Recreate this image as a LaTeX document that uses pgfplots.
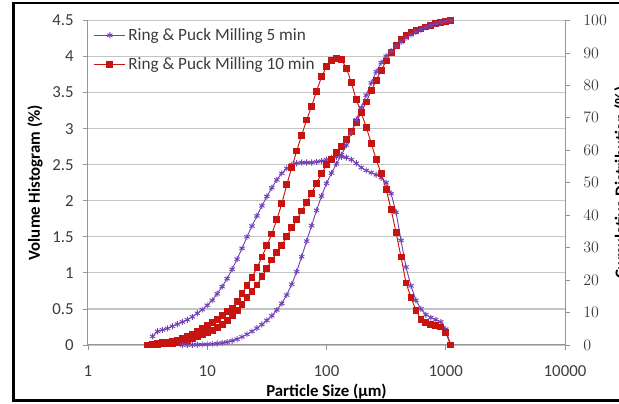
\documentclass[border=0pt]{standalone}
\usepackage{pgfplots}
\usepackage{pgfplotstable}
\pgfplotsset{compat=1.18}
\usepackage{fontspec}
\setmainfont{Carlito}

\definecolor{millpurple}{RGB}{114,66,180}
\definecolor{millred}{RGB}{200,20,16}
\definecolor{gridgray}{RGB}{196,196,196}
\definecolor{axisgray}{RGB}{150,150,150}
\definecolor{labelgray}{RGB}{60,60,60}

% Volume histogram, 5 min milling (size in um, volume %)
\pgfplotstableread{
d h
3.481 0.12
3.831 0.19
4.217 0.21
4.642 0.23
5.109 0.26
5.623 0.29
6.190 0.32
6.813 0.35
7.499 0.39
8.254 0.44
9.085 0.49
10 0.55
11.007 0.62
12.115 0.71
13.335 0.81
14.678 0.92
16.156 1.05
17.783 1.19
19.573 1.34
21.544 1.50
23.714 1.65
26.102 1.79
28.730 1.93
31.623 2.06
34.807 2.18
38.312 2.29
42.170 2.38
46.416 2.45
51.090 2.50
56.234 2.52
61.897 2.53
68.129 2.53
74.989 2.53
82.540 2.54
90.852 2.55
100 2.57
110.07 2.59
121.15 2.61
133.35 2.61
146.78 2.60
161.56 2.57
177.83 2.52
195.73 2.46
215.44 2.42
237.14 2.39
261.02 2.36
287.30 2.32
316.23 2.25
348.07 2.10
383.12 1.84
421.70 1.45
464.16 1.08
510.90 0.82
562.34 0.62
618.97 0.50
681.29 0.42
749.89 0.38
825.40 0.35
908.52 0.32
1000 0.22
1100.7 0.00
}\histfive

% Volume histogram, 10 min milling
\pgfplotstableread{
d h
3.162 0.00
3.481 0.01
3.831 0.02
4.217 0.03
4.642 0.04
5.109 0.05
5.623 0.07
6.190 0.09
6.813 0.12
7.499 0.15
8.254 0.19
9.085 0.23
10 0.27
11.007 0.31
12.115 0.36
13.335 0.41
14.678 0.46
16.156 0.51
17.783 0.60
19.573 0.71
21.544 0.83
23.714 0.94
26.102 1.07
28.730 1.22
31.623 1.38
34.807 1.54
38.312 1.74
42.170 1.96
46.416 2.22
51.090 2.46
56.234 2.69
61.897 2.91
68.129 3.12
74.989 3.31
82.540 3.52
90.852 3.72
100 3.86
110.07 3.94
121.15 3.97
133.35 3.96
146.78 3.84
161.56 3.64
177.83 3.40
195.73 3.22
215.44 3.02
237.14 2.80
261.02 2.57
287.30 2.38
316.23 2.16
348.07 1.88
383.12 1.56
421.70 1.22
464.16 0.86
510.90 0.66
562.34 0.48
618.97 0.36
681.29 0.31
749.89 0.29
825.40 0.27
908.52 0.25
1000 0.17
1100.7 0.00
}\histten

% Cumulative distribution, 5 min milling (%)
\pgfplotstableread{
d c
6.190 0.0
6.813 0.0
7.499 0.05
8.254 0.1
9.085 0.15
10 0.2
11.007 0.3
12.115 0.45
13.335 0.65
14.678 0.9
16.156 1.3
17.783 1.8
19.573 2.5
21.544 3.3
23.714 4.2
26.102 5.2
28.730 6.3
31.623 7.6
34.807 9.0
38.312 10.8
42.170 12.8
46.416 15.4
51.090 18.7
56.234 22.6
61.897 27.2
68.129 32.0
74.989 36.8
82.540 41.5
90.852 45.9
100 49.8
110.07 53.0
121.15 55.8
133.35 58.6
146.78 61.6
161.56 65.4
177.83 69.4
195.73 73.2
215.44 77.0
237.14 80.8
261.02 84.2
287.30 87.0
316.23 89.0
348.07 90.6
383.12 92.0
421.70 93.4
464.16 94.6
510.90 95.6
562.34 96.5
618.97 97.2
681.29 97.9
749.89 98.5
825.40 99.0
908.52 99.4
1000 99.8
1100.7 100.0
}\cumfive

% Cumulative distribution, 10 min milling (%)
\pgfplotstableread{
d c
3.162 0.0
3.481 0.1
3.831 0.2
4.217 0.3
4.642 0.4
5.109 0.5
5.623 0.7
6.190 1.0
6.813 1.4
7.499 2.0
8.254 2.5
9.085 3.1
10 3.8
11.007 4.6
12.115 5.4
13.335 6.4
14.678 7.6
16.156 9.0
17.783 10.6
19.573 12.6
21.544 14.6
23.714 16.6
26.102 18.5
28.730 21.0
31.623 23.6
34.807 26.2
38.312 28.4
42.170 30.8
46.416 33.4
51.090 36.1
56.234 38.6
61.897 41.3
68.129 44.0
74.989 46.8
82.540 49.9
90.852 52.8
100 55.5
110.07 57.3
121.15 59.2
133.35 61.2
146.78 63.4
161.56 65.8
177.83 68.7
195.73 71.7
215.44 74.9
237.14 78.4
261.02 81.6
287.30 84.7
316.23 87.5
348.07 90.1
383.12 92.3
421.70 94.2
464.16 95.3
510.90 96.2
562.34 96.8
618.97 97.4
681.29 98.0
749.89 98.5
825.40 99.0
908.52 99.4
1000 99.7
1100.7 100.0
}\cumten

\pgfplotsset{
  fivestyle/.style={color=millpurple, line width=0.7pt, mark=asterisk,
    mark size=2.3pt, mark options={solid, line width=0.7pt}},
  tenstyle/.style={color=millred, line width=0.7pt, mark=square*,
    mark size=2.2pt, mark options={solid, fill=millred, draw=millred}},
  millaxis/.style={
    at={(66pt,44.25pt)}, anchor=south west,
    scale only axis, width=357.75pt, height=243.4pt,
    xmin=1, xmax=10000,
    tick align=outside, major tick length=3.75pt,
    tick style={axisgray, line width=0.6pt},
    axis line style={-, axisgray, line width=0.75pt},
    tick label style={font=\fontsize{12.6}{15}\selectfont, text=labelgray},
    label style={font=\fontsize{12.6}{15}\selectfont\bfseries, text=black},
  },
}

\begin{document}
\begin{tikzpicture}[x=0.75pt,y=0.75pt]
\useasboundingbox (0,0) rectangle (619,404);
\draw[line width=1.9pt] (13.5,3.5) rectangle (640,401);

\begin{axis}[
  xmode=log,
  millaxis,
  ymin=0, ymax=4.5,
  axis x line*=bottom, axis y line*=left,
  xtick={1,10,100,1000,10000},
  xticklabels={1,10,100,1000,10000},
  xminorticks=false,
  ytick={0,0.5,1,1.5,2,2.5,3,3.5,4,4.5},
  yticklabels={0,0.5,1,1.5,2,2.5,3,3.5,4,4.5},
  yticklabel style={xshift=-3.5pt},
  xticklabel style={yshift=-8.5pt},
  ymajorgrids, grid style={gridgray, line width=0.9pt},
  xlabel={Particle Size (µm)},
  ylabel={Volume Histogram (\%)},
  xlabel style={at={(axis description cs:0.5,-0.1435)}, anchor=center},
  ylabel style={at={(axis description cs:-0.111,0.5)}, anchor=center},
  legend cell align=left,
  legend style={at={(axis description cs:0.012,0.985)}, anchor=north west,
    draw=none, fill=none, inner sep=0pt, row sep=7.5pt,
    font=\fontsize{12.9}{15}\selectfont, text=labelgray},
  legend image code/.code={\draw[mark repeat=2,mark phase=2,#1]
    plot coordinates {(0pt,0pt) (11.5pt,0pt) (23pt,0pt)};},
]
\addplot[fivestyle] table[x=d, y=h] {\histfive};
\addlegendentry{Ring \& Puck Milling 5 min}
\addplot[tenstyle] table[x=d, y=h] {\histten};
\addlegendentry{Ring \& Puck Milling 10 min}
\end{axis}

\begin{axis}[
  xmode=log,
  millaxis,
  ymin=0, ymax=100,
  axis x line=none, axis y line*=right,
  xminorticks=false,
  ytick={0,10,...,100},
  yticklabel style={xshift=6.5pt},
  ylabel={Cumulative Distribution (\%)},
  ylabel style={at={(axis description cs:1.119,0.5)}, anchor=center},
]
\addplot[tenstyle] table[x=d, y=c] {\cumten};
\addplot[fivestyle] table[x=d, y=c] {\cumfive};
\end{axis}
\end{tikzpicture}
\end{document}
